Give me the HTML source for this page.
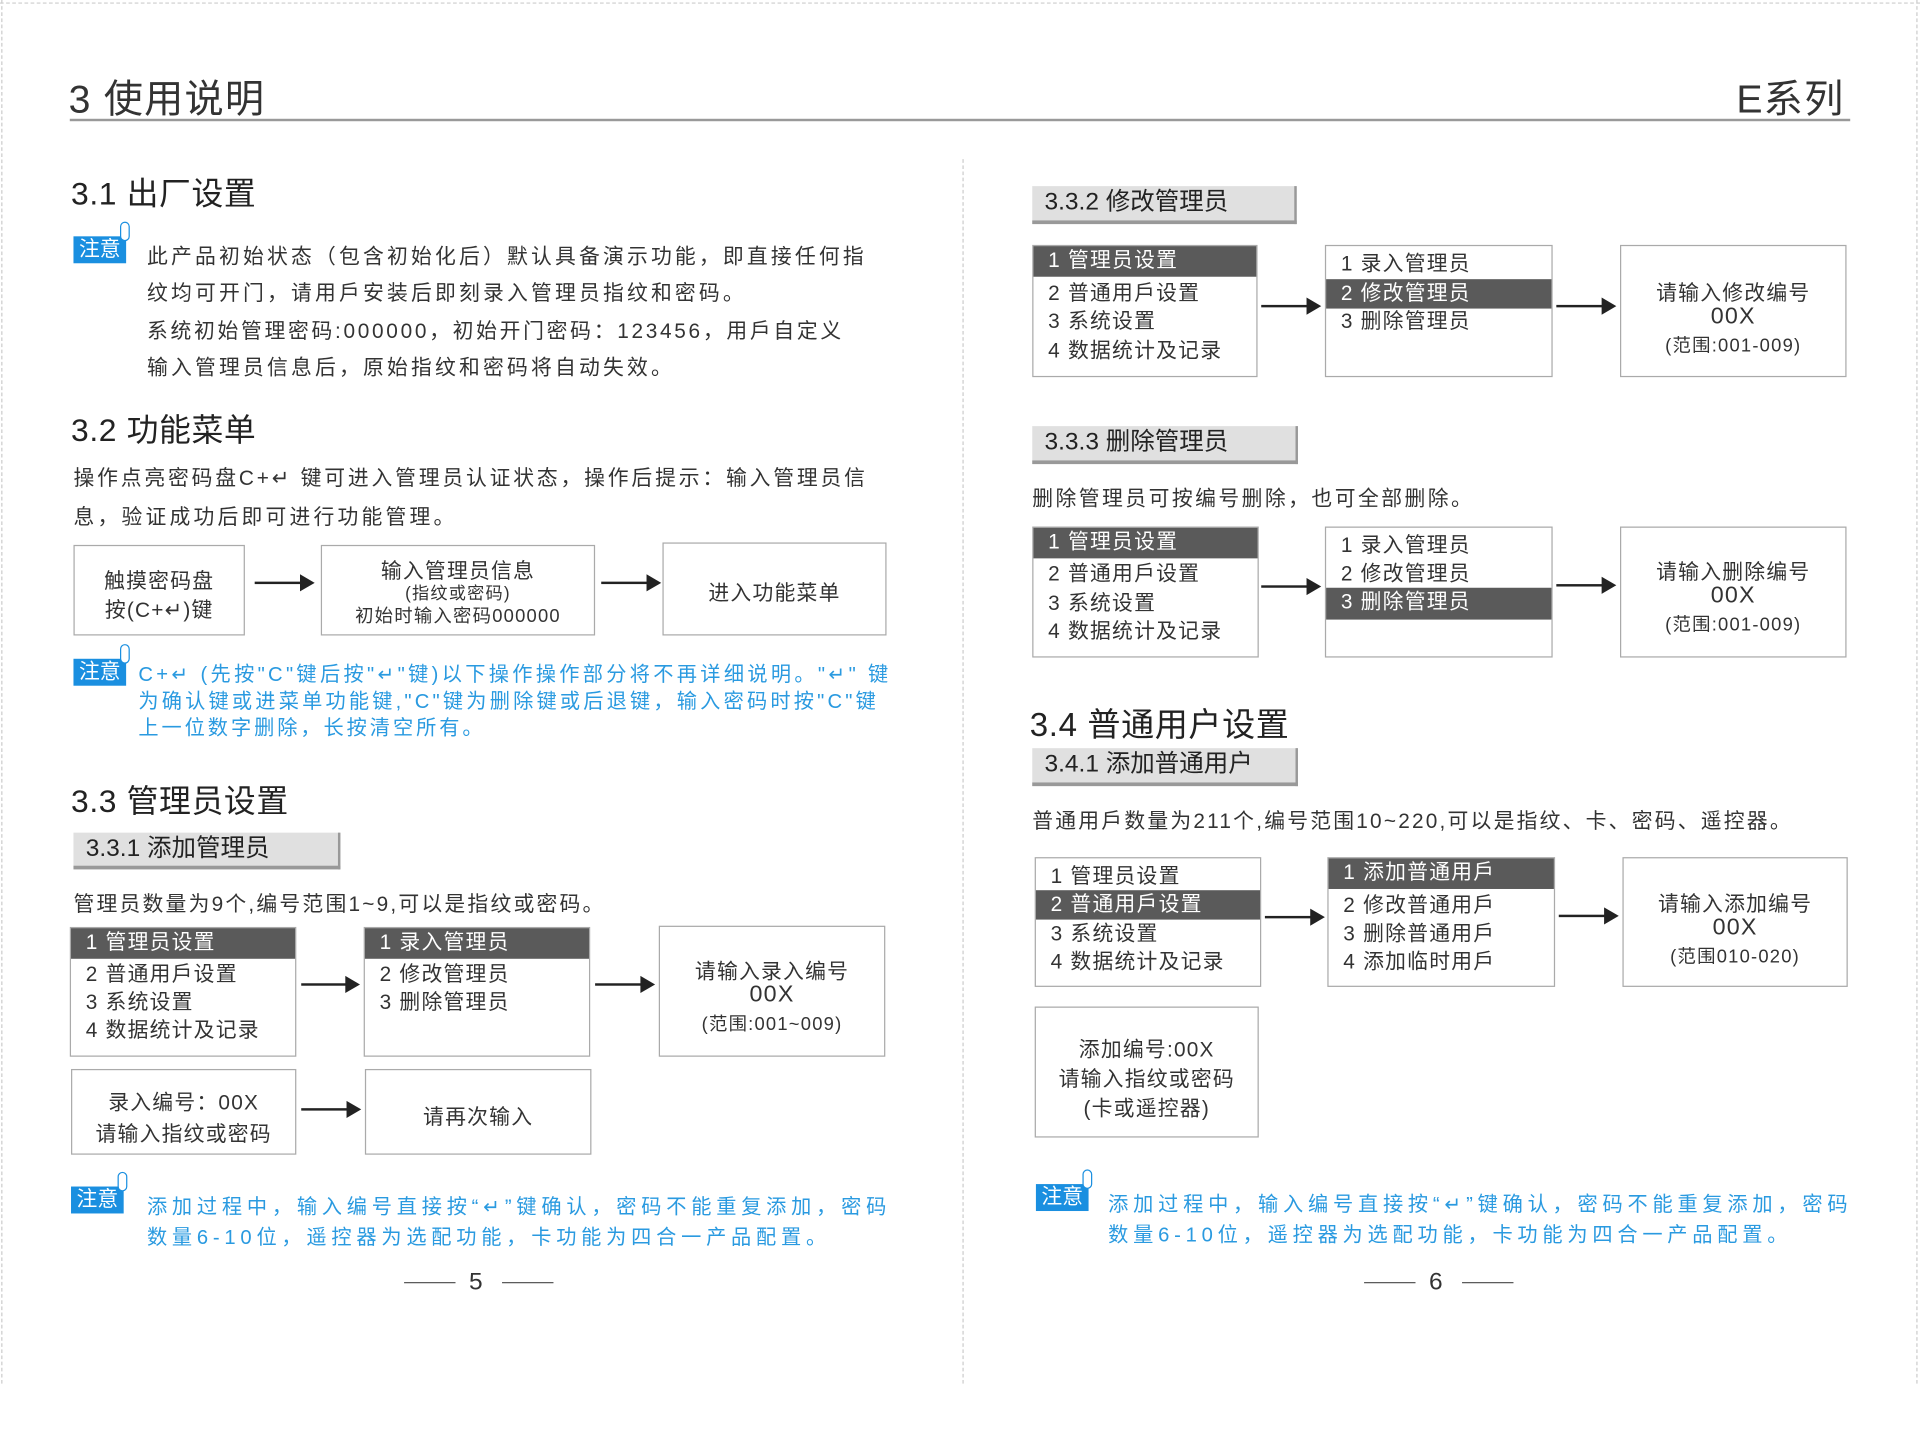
<!DOCTYPE html>
<html><head><meta charset="utf-8"><style>
html,body{margin:0;padding:0;background:#fff;width:1920px;height:1440px;overflow:hidden}
#p{position:absolute;left:0;top:0;width:1568px;height:1176px;transform:scale(1.22449,1.22449);transform-origin:0 0;font-family:"Liberation Sans","Noto Sans CJK SC",sans-serif;color:#333}
.a{position:absolute;white-space:nowrap}
.h1{font-size:32px;color:#333;letter-spacing:1px}
.h2{font-size:26px;color:#222;letter-spacing:0.5px}
.t{font-size:17px;color:#333;letter-spacing:2.6px}
.b{font-size:16.5px;color:#2a9ae0;letter-spacing:2.4px}
.bb{letter-spacing:3.9px}
.nb{position:absolute;width:43px;height:22px;background:#1a8fe0;color:#fff;font-size:17px;line-height:22px;text-align:center}
.nb:after{content:"";position:absolute;right:-3px;top:-12px;width:6px;height:14px;border:1.5px solid #1a8fe0;border-radius:4px;background:#fff}
.box{position:absolute;border:1.5px solid #aaa;background:#fff;box-sizing:border-box}
.lbl{position:absolute;background:#e0e0e0;border-right:2px solid #999;border-bottom:3px solid #999;box-sizing:border-box;font-size:20px;color:#222;padding-left:10px;line-height:27px}
.row{position:absolute;left:0;right:0;height:24px;line-height:24px;font-size:17px;padding-left:12px;color:#333;letter-spacing:1px}
.hl{background:#5a5a5a;color:#fff}
.c{position:absolute;left:0;right:0;text-align:center;font-size:17px;color:#333;letter-spacing:1px}
.ar{position:absolute;height:2px;background:#222}
.ar:after{content:"";position:absolute;right:-2px;top:-6px;border-left:12px solid #222;border-top:7px solid transparent;border-bottom:7px solid transparent}
</style></head><body><div id="p">
<div class="a" style="left:0;top:2px;width:1568px;border-top:1.5px dashed #ccc"></div>
<div class="a" style="left:1px;top:0;height:1130px;border-left:1.5px dashed #ccc"></div>
<div class="a" style="left:786px;top:130px;height:1000px;border-left:1.5px dashed #ccc"></div>
<div class="a" style="left:1565px;top:0;height:1130px;border-left:1.5px dashed #ccc"></div>

<div class="a h1" style="left:56px;top:56px">3 使用说明</div>
<div class="a h1" style="left:1418px;top:56px">E系列</div>
<div class="a" style="left:57px;top:97px;width:1454px;height:2px;background:#999"></div>

<!-- left -->
<div class="a h2" style="left:58px;top:138px">3.1 出厂设置</div>
<div class="nb" style="left:60px;top:193px">注意</div>
<div class="a t" style="left:120px;top:195px">此产品初始状态（包含初始化后）默认具备演示功能，即直接任何指</div>
<div class="a t" style="left:120px;top:225px">纹均可开门，请用戶安装后即刻录入管理员指纹和密码。</div>
<div class="a t" style="left:120px;top:256px;letter-spacing:2.2px">系统初始管理密码:000000，初始开门密码：123456，用戶自定义</div>
<div class="a t" style="left:120px;top:286px">输入管理员信息后，原始指纹和密码将自动失效。</div>

<div class="a h2" style="left:58px;top:331px">3.2 功能菜单</div>
<div class="a t" style="left:60px;top:376px;letter-spacing:2.3px">操作点亮密码盘C+↵ 键可进入管理员认证状态，操作后提示：输入管理员信</div>
<div class="a t" style="left:60px;top:408px">息，验证成功后即可进行功能管理。</div>
<div class="box" style="left:60px;top:445px;width:140px;height:74px"><div class="c" style="top:14px">触摸密码盘</div><div class="c" style="top:38px">按(C+↵)键</div></div>
<div class="ar" style="left:208px;top:475px;width:47px"></div>
<div class="box" style="left:262px;top:445px;width:224px;height:74px"><div class="c" style="top:6px">输入管理员信息</div><div class="c" style="top:28px;font-size:14px">(指纹或密码)</div><div class="c" style="top:46px;font-size:15px">初始时输入密码000000</div></div>
<div class="ar" style="left:491px;top:475px;width:47px"></div>
<div class="box" style="left:541px;top:443px;width:183px;height:76px"><div class="c" style="top:26px">进入功能菜单</div></div>

<div class="nb" style="left:60px;top:538px">注意</div>
<div class="a b" style="left:113px;top:537px;letter-spacing:2.7px">C+↵ (先按"C"键后按"↵"键)以下操作操作部分将不再详细说明。"↵" 键</div>
<div class="a b" style="left:113px;top:559px;letter-spacing:2.6px">为确认键或进菜单功能键,"C"键为删除键或后退键，输入密码时按"C"键</div>
<div class="a b" style="left:113px;top:581px">上一位数字删除，长按清空所有。</div>

<div class="a h2" style="left:58px;top:634px">3.3 管理员设置</div>
<div class="lbl" style="left:60px;top:680px;width:218px;height:30px">3.3.1 添加管理员</div>
<div class="a t" style="left:60px;top:724px;letter-spacing:1.8px">管理员数量为9个,编号范围1~9,可以是指纹或密码。</div>
<div class="box" style="left:57px;top:757px;width:185px;height:106px"><div class="row hl" style="top:0;height:25px">1 管理员设置</div><div class="row" style="top:26px">2 普通用戶设置</div><div class="row" style="top:49px">3 系统设置</div><div class="row" style="top:72px">4 数据统计及记录</div></div>
<div class="ar" style="left:246px;top:803px;width:46px"></div>
<div class="box" style="left:297px;top:757px;width:185px;height:106px"><div class="row hl" style="top:0;height:25px">1 录入管理员</div><div class="row" style="top:26px">2 修改管理员</div><div class="row" style="top:49px">3 删除管理员</div></div>
<div class="ar" style="left:486px;top:803px;width:47px"></div>
<div class="box" style="left:538px;top:756px;width:185px;height:107px"><div class="c" style="top:22px">请输入录入编号</div><div class="c" style="top:45px;font-size:19px">00X</div><div class="c" style="top:68px;font-size:15px">(范围:001~009)</div></div>
<div class="box" style="left:58px;top:873px;width:184px;height:70px"><div class="c" style="top:12px">录入编号：00X</div><div class="c" style="top:38px">请输入指纹或密码</div></div>
<div class="ar" style="left:246px;top:905px;width:47px"></div>
<div class="box" style="left:298px;top:873px;width:185px;height:70px"><div class="c" style="top:24px">请再次输入</div></div>

<div class="nb" style="left:58px;top:969px">注意</div>
<div class="a b bb" style="left:120px;top:972px">添加过程中，输入编号直接按“↵”键确认，密码不能重复添加，密码</div>
<div class="a b bb" style="left:120px;top:997px">数量6-10位，遥控器为选配功能，卡功能为四合一产品配置。</div>
<div class="a" style="left:330px;top:1047px;width:42px;height:1px;background:#555"></div>
<div class="a" style="left:383px;top:1036px;font-size:20px;color:#333">5</div>
<div class="a" style="left:410px;top:1047px;width:42px;height:1px;background:#555"></div>

<!-- right -->
<div class="lbl" style="left:843px;top:152px;width:216px;height:31px">3.3.2 修改管理员</div>
<div class="box" style="left:843px;top:200px;width:184px;height:108px"><div class="row hl" style="top:0;height:25px">1 管理员设置</div><div class="row" style="top:27px">2 普通用戶设置</div><div class="row" style="top:50px">3 系统设置</div><div class="row" style="top:74px">4 数据统计及记录</div></div>
<div class="ar" style="left:1030px;top:249px;width:47px"></div>
<div class="box" style="left:1082px;top:200px;width:186px;height:108px"><div class="row" style="top:3px">1 录入管理员</div><div class="row hl" style="top:27px;height:24px">2 修改管理员</div><div class="row" style="top:50px">3 删除管理员</div></div>
<div class="ar" style="left:1271px;top:249px;width:47px"></div>
<div class="box" style="left:1323px;top:200px;width:185px;height:108px"><div class="c" style="top:24px">请输入修改编号</div><div class="c" style="top:47px;font-size:19px">00X</div><div class="c" style="top:70px;font-size:15px">(范围:001-009)</div></div>

<div class="lbl" style="left:843px;top:348px;width:217px;height:31px">3.3.3 删除管理员</div>
<div class="a t" style="left:843px;top:393px;letter-spacing:2px">删除管理员可按编号删除，也可全部删除。</div>
<div class="box" style="left:843px;top:430px;width:185px;height:107px"><div class="row hl" style="top:0;height:25px">1 管理员设置</div><div class="row" style="top:26px">2 普通用戶设置</div><div class="row" style="top:50px">3 系统设置</div><div class="row" style="top:73px">4 数据统计及记录</div></div>
<div class="ar" style="left:1030px;top:478px;width:47px"></div>
<div class="box" style="left:1082px;top:430px;width:186px;height:107px"><div class="row" style="top:3px">1 录入管理员</div><div class="row" style="top:26px">2 修改管理员</div><div class="row hl" style="top:49px;height:26px">3 删除管理员</div></div>
<div class="ar" style="left:1271px;top:477px;width:47px"></div>
<div class="box" style="left:1323px;top:430px;width:185px;height:107px"><div class="c" style="top:22px">请输入删除编号</div><div class="c" style="top:45px;font-size:19px">00X</div><div class="c" style="top:68px;font-size:15px">(范围:001-009)</div></div>

<div class="a h2" style="left:841px;top:570px;font-size:27px">3.4 普通用户设置</div>
<div class="lbl" style="left:843px;top:611px;width:217px;height:31px">3.4.1 添加普通用户</div>
<div class="a t" style="left:843px;top:656px;letter-spacing:1.8px">普通用戶数量为211个,编号范围10~220,可以是指纹、卡、密码、遥控器。</div>
<div class="box" style="left:845px;top:700px;width:185px;height:106px"><div class="row" style="top:3px">1 管理员设置</div><div class="row hl" style="top:26px;height:24px">2 普通用戶设置</div><div class="row" style="top:50px">3 系统设置</div><div class="row" style="top:73px">4 数据统计及记录</div></div>
<div class="ar" style="left:1033px;top:748px;width:47px"></div>
<div class="box" style="left:1084px;top:700px;width:186px;height:106px"><div class="row hl" style="top:0;height:25px">1 添加普通用戶</div><div class="row" style="top:27px">2 修改普通用戶</div><div class="row" style="top:50px">3 删除普通用戶</div><div class="row" style="top:73px">4 添加临时用戶</div></div>
<div class="ar" style="left:1273px;top:747px;width:47px"></div>
<div class="box" style="left:1325px;top:700px;width:184px;height:106px"><div class="c" style="top:23px">请输入添加编号</div><div class="c" style="top:46px;font-size:19px">00X</div><div class="c" style="top:69px;font-size:15px">(范围010-020)</div></div>
<div class="box" style="left:845px;top:822px;width:183px;height:107px"><div class="c" style="top:20px">添加编号:00X</div><div class="c" style="top:44px">请输入指纹或密码</div><div class="c" style="top:68px">(卡或遥控器)</div></div>

<div class="nb" style="left:846px;top:967px">注意</div>
<div class="a b bb" style="left:905px;top:970px">添加过程中，输入编号直接按“↵”键确认，密码不能重复添加，密码</div>
<div class="a b bb" style="left:905px;top:995px">数量6-10位，遥控器为选配功能，卡功能为四合一产品配置。</div>
<div class="a" style="left:1114px;top:1047px;width:42px;height:1px;background:#555"></div>
<div class="a" style="left:1167px;top:1036px;font-size:20px;color:#333">6</div>
<div class="a" style="left:1194px;top:1047px;width:42px;height:1px;background:#555"></div>
</div></body></html>
